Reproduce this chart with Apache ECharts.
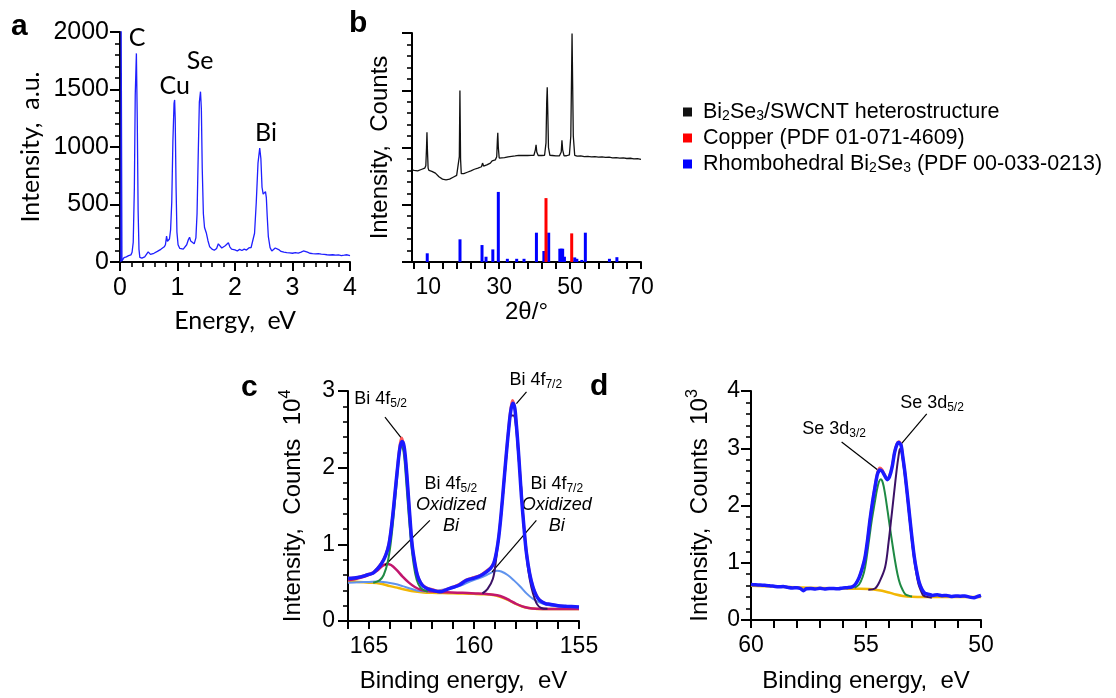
<!DOCTYPE html>
<html>
<head>
<meta charset="utf-8">
<script src="https://cdn.jsdelivr.net/npm/echarts@6/dist/echarts.min.js"></script>
<style>
  html, body { margin: 0; padding: 0; background: #fff; }
  #chart { width: 1116px; height: 698px; }
</style>
</head>
<body>
<div id="chart"></div>
<script>
// ---------- (a) EDX spectrum: [energy, intensity] ----------
const edxSpectrum = [
  [0.015,0],[0.020,2100],[0.028,2100],[0.034,10],[0.05,22],[0.07,38],[0.09,28],[0.11,45],[0.13,40],[0.15,56],
  [0.17,50],[0.19,62],[0.21,85],[0.23,170],[0.25,650],[0.265,1450],[0.285,1814],[0.30,1250],[0.315,450],[0.33,110],
  [0.345,40],[0.36,30],[0.38,34],[0.40,40],[0.43,45],[0.46,62],[0.49,88],[0.51,78],[0.53,66],[0.56,70],
  [0.59,76],[0.62,86],[0.65,92],[0.68,100],[0.71,110],[0.74,118],[0.77,132],[0.79,150],[0.81,226],[0.825,180],
  [0.84,170],[0.86,200],[0.88,280],[0.90,520],[0.92,1050],[0.94,1380],[0.95,1409],[0.96,1250],[0.975,650],[0.99,260],
  [1.01,150],[1.04,118],[1.07,106],[1.10,112],[1.13,128],[1.16,150],[1.19,196],[1.21,215],[1.23,182],[1.26,165],
  [1.29,158],[1.32,210],[1.34,420],[1.36,920],[1.38,1390],[1.40,1481],[1.415,1330],[1.43,820],[1.45,420],[1.47,300],
  [1.50,255],[1.53,185],[1.56,132],[1.60,112],[1.64,102],[1.68,118],[1.71,158],[1.74,168],[1.77,122],[1.80,116],
  [1.83,142],[1.86,152],[1.885,168],[1.91,132],[1.94,112],[1.97,102],[2.00,106],[2.04,96],[2.08,110],[2.12,100],
  [2.16,112],[2.20,104],[2.24,122],[2.28,126],[2.31,132],[2.34,250],[2.37,520],[2.40,860],[2.43,990],[2.45,900],
  [2.47,650],[2.49,590],[2.51,600],[2.53,612],[2.545,560],[2.56,400],[2.58,220],[2.61,125],[2.64,95],[2.67,100],
  [2.70,122],[2.73,132],[2.76,108],[2.80,92],[2.85,86],[2.90,82],[2.95,79],[3.00,76],[3.05,81],[3.10,78],
  [3.15,86],[3.19,96],[3.22,82],[3.26,86],[3.30,76],[3.35,73],[3.40,71],[3.45,73],[3.50,68],[3.55,66],
  [3.60,63],[3.65,61],[3.70,63],[3.75,59],[3.80,61],[3.85,56],[3.90,59],[3.95,63],[4.00,56]
];
const edxLabels = [
  { name: 'C',  at: [0.296, 1950] },
  { name: 'Cu', at: [0.950, 1530] },
  { name: 'Se', at: [1.395, 1750] },
  { name: 'Bi', at: [2.540, 1125] }
];

// ---------- (b) XRD pattern and reference cards: [2θ, intensity] ----------
const xrdPattern = [
  [5.4,40.2],[6.0,40.0],[6.5,40.3],[7.0,39.8],[7.5,40.1],[8.0,40.4],[8.5,40.6],[9.0,41.0],[9.3,42],[9.5,50],
  [9.62,56.6],[9.75,49],[9.95,41],[10.2,40],[10.6,39.8],[11.0,39.6],[11.5,39.4],[12.0,38.8],[12.5,38.0],[13.0,37.2],
  [13.5,36.6],[14.0,36.2],[14.5,36.0],[15.0,35.9],[15.5,36.0],[16.0,36.2],[16.5,36.6],[17.0,37.0],[17.5,37.4],[18.0,37.8],
  [18.5,38.5],[18.75,46],[18.92,74.9],[19.1,45],[19.3,38.6],[20.0,38.6],[21.0,39.2],[22.0,39.8],[23.0,40.5],[24.0,41.0],
  [25.0,41.6],[25.3,43.2],[25.6,41.9],[26.5,42.4],[27.5,43.2],[28.0,44.2],[28.3,44.0],[28.9,44.6],[29.3,46],[29.48,53],
  [29.6,56.4],[29.75,50],[30.0,45.4],[30.5,45.2],[31.5,45.6],[32.5,45.9],[33.5,46.1],[34.5,46.3],[35.5,46.6],[35.7,47.2],
  [36.0,46.4],[37.0,46.5],[38.0,46.5],[39.0,46.6],[39.8,46.6],[40.2,49],[40.4,51.2],[40.6,48],[41.0,46.5],[42.0,46.5],
  [42.8,46.6],[43.2,52],[43.4,70],[43.55,76.3],[43.7,66],[43.9,50],[44.3,46.6],[45.0,46.5],[46.0,46.3],[47.0,46.4],
  [47.5,48],[47.7,53.1],[47.9,49],[48.3,46.3],[49.0,46.4],[49.8,46.8],[50.2,55],[50.4,80],[50.55,99.8],[50.7,80],
  [50.9,55],[51.3,46.6],[52.0,46.2],[53.0,46.3],[54.0,46.0],[55.0,46.1],[56.0,45.9],[57.0,46.0],[58.0,45.8],[59.0,45.9],
  [60.0,45.7],[61.0,45.8],[62.0,45.5],[63.0,45.6],[64.0,45.4],[65.0,45.5],[66.0,45.2],[67.0,45.3],[68.0,45.0],[69.0,45.1],
  [70.0,44.8]
];
const bi2se3RefPeaks = [
  [9.7,3.8],[18.94,9.9],[25.15,7.4],[26.28,2.3],[28.2,5.5],[29.75,30.6],[32.3,1.4],[34.93,1.4],[37.0,1.4],[40.5,12.8],
  [42.6,4.8],[43.96,12.8],[47.1,5.8],[47.5,5.8],[47.9,5.8],[48.4,2.3],[51.3,2.0],[51.9,1.4],[53.3,0.9],[54.3,12.8],
  [61.1,1.4],[63.2,2.1]
];
const copperRefPeaks = [[43.2,27.9],[50.45,12.5]];
const xrdTickValues = [6,10,14,18,22,26,30,34,38,42,46,50,54,58,62,66,70];
const xrdLabelValues = [10,30,50,70];
const xrdSeriesNames = ['Bi2Se3/SWCNT heterostructure', 'Copper (PDF 01-071-4609)', 'Rhombohedral Bi2Se3 (PDF 00-033-0213)'];
const xrdLegendText = {
  'Bi2Se3/SWCNT heterostructure': 'Bi{sub|2}Se{sub|3}/SWCNT heterostructure',
  'Copper (PDF 01-071-4609)': 'Copper (PDF 01-071-4609)',
  'Rhombohedral Bi2Se3 (PDF 00-033-0213)': 'Rhombohedral Bi{sub|2}Se{sub|3} (PDF 00-033-0213)'
};

// ---------- (c) Bi 4f XPS: [binding energy, counts ×10^4] ----------
const bi4fMeasured = [
  [166.0,0.56],[165.7,0.565],[165.4,0.58],[165.1,0.605],[164.8,0.635],[164.6,0.69],[164.4,0.76],[164.2,0.87],[164.05,1.02],[163.9,1.32],
  [163.75,1.72],[163.62,2.08],[163.52,2.32],[163.44,2.39],[163.35,2.3],[163.24,2.06],[163.13,1.66],[163.03,1.28],[162.94,0.99],[162.82,0.77],
  [162.7,0.61],[162.55,0.51],[162.4,0.46],[162.2,0.43],[161.95,0.41],[161.63,0.39],[161.31,0.415],[161.0,0.445],[160.7,0.48],[160.36,0.54],
  [160.0,0.57],[159.7,0.6],[159.41,0.655],[159.2,0.7],[159.05,0.77],[158.93,0.91],[158.82,1.11],[158.7,1.43],[158.58,1.81],[158.46,2.2],
  [158.35,2.53],[158.25,2.78],[158.17,2.88],[158.07,2.8],[157.98,2.56],[157.9,2.28],[157.82,1.96],[157.74,1.63],[157.62,1.23],[157.5,0.9],
  [157.35,0.63],[157.19,0.45],[157.03,0.34],[156.87,0.275],[156.6,0.23],[156.39,0.22],[156.0,0.2],[155.6,0.19],[155.0,0.18]
];
const bi4fEnvelope = [
  [166.0,0.553],[165.7,0.56],[165.4,0.575],[165.1,0.6],[164.8,0.627],[164.6,0.68],[164.4,0.75],[164.2,0.86],[164.05,1.0],[163.9,1.3],
  [163.75,1.7],[163.62,2.05],[163.52,2.27],[163.42,2.34],[163.33,2.28],[163.24,2.05],[163.13,1.65],[163.03,1.27],[162.94,0.98],[162.82,0.76],
  [162.7,0.6],[162.55,0.5],[162.4,0.45],[162.2,0.42],[161.95,0.4],[161.63,0.38],[161.31,0.41],[161.0,0.44],[160.7,0.47],[160.36,0.53],
  [160.0,0.56],[159.7,0.59],[159.41,0.64],[159.2,0.69],[159.05,0.76],[158.93,0.9],[158.82,1.1],[158.7,1.42],[158.58,1.8],[158.46,2.18],
  [158.35,2.5],[158.25,2.74],[158.15,2.84],[158.06,2.78],[157.98,2.55],[157.9,2.27],[157.82,1.95],[157.74,1.62],[157.62,1.22],[157.5,0.88],
  [157.35,0.62],[157.19,0.44],[157.03,0.33],[156.87,0.27],[156.6,0.228],[156.39,0.218],[156.0,0.2],[155.6,0.192],[155.0,0.183]
];
const bi4fBackground = [
  [166.0,0.52],[165.5,0.51],[165.0,0.5],[164.5,0.49],[164.0,0.455],[163.6,0.43],[163.2,0.405],[162.8,0.385],[162.4,0.372],[162.0,0.368],
  [161.5,0.365],[161.0,0.362],[160.5,0.358],[160.0,0.354],[159.5,0.348],[159.1,0.338],[158.8,0.32],[158.5,0.29],[158.2,0.25],[157.9,0.21],
  [157.6,0.18],[157.3,0.165],[157.0,0.158],[156.5,0.155],[155.0,0.155]
];
const bi4f52Oxide = [
  [166.0,0.53],[165.6,0.55],[165.2,0.58],[164.9,0.61],[164.6,0.66],[164.35,0.72],[164.15,0.745],[163.95,0.73],[163.7,0.67],[163.4,0.58],
  [163.1,0.5],[162.8,0.44],[162.5,0.405],[162.2,0.39],[161.8,0.38],[161.3,0.375],[160.8,0.37],[160.3,0.365],[159.8,0.36],[159.3,0.35],
  [158.9,0.335],[158.6,0.31],[158.3,0.27],[158.0,0.225],[157.7,0.19],[157.4,0.17],[157.0,0.16],[156.5,0.155],[155.0,0.155]
];
const bi4f72Oxide = [
  [166.0,0.5],[165.5,0.505],[165.0,0.51],[164.6,0.515],[164.2,0.505],[163.8,0.485],[163.4,0.455],[163.0,0.42],[162.6,0.39],[162.2,0.385],
  [161.8,0.395],[161.4,0.41],[161.0,0.43],[160.6,0.465],[160.2,0.515],[159.8,0.555],[159.4,0.6],[159.1,0.64],[158.9,0.655],[158.7,0.645],
  [158.4,0.6],[158.1,0.53],[157.8,0.45],[157.5,0.36],[157.2,0.29],[156.9,0.245],[156.5,0.21],[156.0,0.19],[155.5,0.18],[155.0,0.175]
];
const bi4f52Metal = [
  [164.8,0.5],[164.5,0.53],[164.3,0.6],[164.1,0.78],[163.95,1.05],[163.8,1.45],[163.65,1.9],[163.55,2.18],[163.45,2.29],[163.35,2.2],
  [163.25,1.9],[163.1,1.35],[162.95,0.9],[162.8,0.62],[162.65,0.48],[162.45,0.41],[162.2,0.385]
];
const bi4f72Metal = [
  [159.6,0.36],[159.35,0.42],[159.1,0.55],[158.95,0.8],[158.77,1.22],[158.6,1.7],[158.46,2.14],[158.34,2.5],[158.22,2.68],[158.12,2.68],
  [158.02,2.58],[157.9,2.2],[157.74,1.7],[157.62,1.2],[157.5,0.84],[157.35,0.55],[157.19,0.36],[157.0,0.22],[156.8,0.17],[156.5,0.16]
];
// label anchors sit inside the axis range; `lift` raises a label above its anchor (px)
const bi4fLabels = [
  { name: 'Bi 4f{sub|5/2}', at: [164.45, 2.89], lift: 0 },
  { name: 'Bi 4f{sub|7/2}', at: [157.06, 3.0], lift: 11 },
  { name: 'Bi 4f{sub|5/2}\n{it|Oxidized}\n{it|Bi}', at: [161.1, 1.51], lift: 0 },
  { name: 'Bi 4f{sub|7/2}\n{it|Oxidized}\n{it|Bi}', at: [156.06, 1.51], lift: 0 }
];
const bi4fLeaders = [
  [[164.24, 2.66], [163.40, 2.366]],
  [[157.5, 2.99], [157.98, 2.835]],
  [[162.1, 1.313], [164.24, 0.727]],
  [[157.03, 1.313], [159.14, 0.64]]
];

// ---------- (d) Se 3d XPS: [binding energy, counts ×10^3] ----------
const se3dEnvelope = [
  [60,0.62],[59.8,0.615],[59.6,0.61],[59.4,0.605],[59.2,0.6],[59.0,0.59],[58.8,0.58],[58.6,0.585],[58.4,0.57],[58.2,0.56],
  [58.0,0.565],[57.85,0.55],[57.72,0.51],[57.6,0.545],[57.4,0.55],[57.2,0.54],[57.0,0.555],[56.8,0.54],[56.6,0.55],[56.4,0.55],
  [56.2,0.545],[56.0,0.56],[55.8,0.565],[55.6,0.58],[55.45,0.63],[55.3,0.74],[55.15,0.92],[55.04,1.1],[54.93,1.4],[54.83,1.74],
  [54.72,2.05],[54.61,2.32],[54.5,2.55],[54.4,2.62],[54.3,2.6],[54.2,2.53],[54.08,2.45],[53.98,2.5],[53.86,2.68],[53.76,2.92],
  [53.66,3.06],[53.58,3.1],[53.48,3.06],[53.4,2.85],[53.3,2.55],[53.16,2.03],[53.02,1.5],[52.9,1.1],[52.8,0.86],[52.69,0.66],
  [52.58,0.545],[52.45,0.47],[52.3,0.45],[52.1,0.43],[51.9,0.44],[51.7,0.425],[51.5,0.43],[51.3,0.41],[51.1,0.42],[50.9,0.415],
  [50.7,0.42],[50.5,0.4],[50.3,0.39],[50.15,0.41],[50.0,0.43]
];
const se3dMeasured = [
  [55.6,0.585],[55.45,0.635],[55.3,0.745],[55.15,0.93],[55.04,1.11],[54.93,1.41],[54.83,1.75],[54.72,2.06],[54.61,2.34],[54.5,2.58],
  [54.4,2.66],[54.3,2.63],[54.2,2.55],[54.08,2.47],[53.98,2.52],[53.86,2.7],[53.76,2.94],[53.66,3.08],[53.58,3.12],[53.48,3.07],
  [53.4,2.86],[53.3,2.56],[53.16,2.04],[53.02,1.51],[52.9,1.11],[52.8,0.87],[52.69,0.67],[52.58,0.55]
];
const se3dBackground = [
  [60,0.6],[59,0.585],[58,0.57],[57,0.56],[56,0.55],[55.3,0.545],[54.9,0.54],[54.6,0.53],[54.3,0.51],[54.0,0.48],
  [53.7,0.445],[53.4,0.42],[53.0,0.405],[52.5,0.4],[52,0.4],[51,0.4],[50,0.4]
];
const se3d32 = [
  [55.5,0.56],[55.3,0.62],[55.15,0.75],[55.04,0.92],[54.9,1.3],[54.75,1.74],[54.62,2.05],[54.53,2.26],[54.44,2.41],[54.36,2.46],
  [54.27,2.4],[54.17,2.2],[54.06,1.9],[53.96,1.62],[53.85,1.32],[53.74,1.04],[53.63,0.8],[53.52,0.63],[53.4,0.52],[53.3,0.455],
  [53.15,0.425],[53.0,0.41]
];
const se3d52 = [
  [54.9,0.53],[54.61,0.55],[54.4,0.68],[54.17,0.92],[54.02,1.35],[53.88,1.85],[53.77,2.25],[53.67,2.61],[53.59,2.85],[53.52,2.99],
  [53.45,2.92],[53.38,2.73],[53.27,2.38],[53.16,1.97],[53.05,1.55],[52.94,1.16],[52.83,0.86],[52.72,0.63],[52.6,0.5],[52.51,0.43],
  [52.3,0.4],[52.14,0.39]
];
const se3dLabels = [
  { name: 'Se 3d{sub|5/2}', at: [52.13, 3.785], lift: 0 },
  { name: 'Se 3d{sub|3/2}', at: [56.39, 3.33], lift: 0 }
];
const se3dLeaders = [
  [[52.36, 3.6], [53.52, 3.05]],
  [[56.06, 3.11], [54.46, 2.61]]
];

// ---------- styling ----------
const SANS = '"Liberation Sans", Arial, sans-serif';
const HUMANIST = 'Lato, "Open Sans", sans-serif';
const INK = '#000';

function merge(base, extra) {
  const out = Array.isArray(base) ? base.slice() : Object.assign({}, base);
  for (const k in extra) {
    const v = extra[k];
    if (v && typeof v === 'object' && !Array.isArray(v) && base[k] && typeof base[k] === 'object' && !Array.isArray(base[k])) {
      out[k] = merge(base[k], v);
    } else {
      out[k] = v;
    }
  }
  return out;
}

const axisCommon = {
  type: 'value',
  splitLine: { show: false },
  axisLine: { show: true, onZero: false, lineStyle: { color: INK, width: 2 } },
  axisTick: { show: true, inside: false, length: 9, lineStyle: { color: INK, width: 2 } },
  minorTick: { show: true, splitNumber: 5, length: 5, lineStyle: { color: INK, width: 1.6 } },
  axisLabel: { color: INK, fontSize: 23, fontFamily: SANS, margin: 12, formatter: (v) => String(v) },
  nameLocation: 'middle',
  nameTextStyle: { color: INK, fontSize: 24, fontFamily: SANS }
};
const axis = (o) => merge(axisCommon, o);

const supRich = { sup: { fontSize: 16, fontFamily: SANS, color: INK, verticalAlign: 'top', lineHeight: 16 } };
const noteRich = {
  sub: { fontSize: 12, fontFamily: SANS, color: INK, verticalAlign: 'bottom', lineHeight: 12 },
  it: { fontSize: 18, fontFamily: SANS, color: INK, fontStyle: 'italic', lineHeight: 21 }
};

function curve(name, data, xi, color, width, z, smooth) {
  return {
    name, type: 'line', xAxisIndex: xi, yAxisIndex: xi, data,
    symbol: 'none', showSymbol: false, smooth: smooth === undefined ? 0.35 : smooth,
    lineStyle: { color, width }, itemStyle: { color }, z, silent: true
  };
}

function notes(labels, leaders) {
  return {
    markPoint: {
      silent: true, symbol: 'rect', symbolSize: 1, itemStyle: { color: 'rgba(0,0,0,0)' },
      label: {
        show: true, position: 'inside', formatter: '{b}', color: INK,
        fontSize: 18, fontFamily: SANS, lineHeight: 21, rich: noteRich
      },
      data: labels.map(l => ({ name: l.name, coord: l.at, label: { offset: [0, -l.lift] } }))
    },
    markLine: {
      silent: true, symbol: ['none', 'none'], label: { show: false },
      lineStyle: { color: INK, width: 1.2, type: 'solid' },
      data: leaders.map(s => [{ coord: s[0] }, { coord: s[1] }])
    }
  };
}

const option = {
  animation: false,
  backgroundColor: '#fff',
  textStyle: { fontFamily: SANS },
  grid: [
    { left: 120, top: 32, width: 230, height: 230 },
    { left: 412, top: 33, width: 229, height: 229 },
    { left: 348, top: 391, width: 231, height: 230 },
    { left: 751, top: 391, width: 230, height: 229 }
  ],
  legend: {
    orient: 'vertical', left: 678, top: 96, itemWidth: 9, itemHeight: 9, itemGap: 4, icon: 'rect',
    selectedMode: false,
    data: xrdSeriesNames,
    formatter: (n) => xrdLegendText[n],
    textStyle: {
      color: INK, fontSize: 21.5, fontFamily: SANS, lineHeight: 21.5, padding: [0, 0, 0, 6],
      rich: { sub: { fontSize: 14, fontFamily: SANS, color: INK, verticalAlign: 'bottom', lineHeight: 13 } }
    }
  },
  xAxis: [
    axis({ gridIndex: 0, min: 0, max: 4, interval: 1,
      axisTick: { length: 9 }, minorTick: { length: 5 },
      axisLabel: { margin: 14, fontSize: 25 },
      name: 'Energy,  eV', nameGap: 46, nameTextStyle: { fontFamily: HUMANIST, fontSize: 25 } }),
    axis({ gridIndex: 1, min: 5.4, max: 70,
      axisTick: { length: 7, customValues: xrdTickValues },
      axisLabel: { margin: 14, customValues: xrdLabelValues },
      minorTick: { show: false },
      name: '2θ/°', nameGap: 18 }),
    axis({ gridIndex: 2, min: 155, max: 166, inverse: true,
      axisTick: { length: 8, customValues: [155,156,157,158,159,160,161,162,163,164,165,166] },
      axisLabel: { margin: 14, customValues: [155,160,165] },
      minorTick: { show: false },
      name: 'Binding energy,  eV', nameGap: 48 }),
    axis({ gridIndex: 3, min: 50, max: 60, interval: 5, inverse: true,
      axisTick: { length: 8 }, minorTick: { length: 8, lineStyle: { width: 2 } },
      axisLabel: { margin: 14 },
      name: 'Binding energy,  eV', nameGap: 49 })
  ],
  yAxis: [
    axis({ gridIndex: 0, min: 0, max: 2000, interval: 500,
      axisTick: { length: 10 }, minorTick: { length: 5 },
      axisLabel: { margin: 11, fontSize: 25 },
      name: 'Intensity,  a.u.', nameGap: 77, nameTextStyle: { fontFamily: HUMANIST, fontSize: 25 } }),
    axis({ gridIndex: 1, min: 0, max: 100, interval: 25,
      axisTick: { length: 10 }, minorTick: { length: 5 },
      axisLabel: { show: false },
      name: 'Intensity,  Counts', nameGap: 20 }),
    axis({ gridIndex: 2, min: 0, max: 3, interval: 1,
      axisTick: { length: 10 }, minorTick: { length: 5 },
      axisLabel: { margin: 13 },
      name: 'Intensity,  Counts  10{sup|4}', nameGap: 40,
      nameTextStyle: { lineHeight: 30, rich: supRich } }),
    axis({ gridIndex: 3, min: 0, max: 4, interval: 1,
      axisTick: { length: 10 }, minorTick: { length: 5 },
      axisLabel: { margin: 11 },
      name: 'Intensity,  Counts  10{sup|3}', nameGap: 36,
      nameTextStyle: { lineHeight: 30, rich: supRich } })
  ],
  series: [
    // (a)
    merge(curve('EDX', edxSpectrum, 0, '#1f1fff', 1.3, 3, false), {
      markPoint: {
        silent: true, symbol: 'rect', symbolSize: 1, itemStyle: { color: 'rgba(0,0,0,0)' },
        label: { show: true, position: 'inside', formatter: '{b}', color: INK, fontSize: 25, fontFamily: HUMANIST },
        data: edxLabels.map(l => ({ name: l.name, coord: l.at }))
      }
    }),
    // (b)
    {
      name: xrdSeriesNames[2], type: 'bar', xAxisIndex: 1, yAxisIndex: 1, data: bi2se3RefPeaks,
      barWidth: 3, barGap: '-100%', itemStyle: { color: '#0000ff' }, z: 2, silent: true
    },
    {
      name: xrdSeriesNames[1], type: 'bar', xAxisIndex: 1, yAxisIndex: 1, data: copperRefPeaks,
      barWidth: 3, barGap: '-100%', itemStyle: { color: '#ff0000' }, z: 3, silent: true
    },
    curve(xrdSeriesNames[0], xrdPattern, 1, '#111', 1.3, 4, false),
    // (c)
    curve('Bi 4f background', bi4fBackground, 2, '#f2b705', 2.5, 2),
    curve('Bi 4f7/2 oxidized', bi4f72Oxide, 2, '#5f93ee', 2, 3),
    curve('Bi 4f5/2 oxidized', bi4f52Oxide, 2, '#c2166e', 2.5, 4),
    curve('Bi 4f5/2', bi4f52Metal, 2, '#1f8a44', 2, 5),
    curve('Bi 4f7/2', bi4f72Metal, 2, '#3b1166', 2, 5),
    curve('Bi 4f measured', bi4fMeasured, 2, '#ff5a5a', 2.5, 6),
    merge(curve('Bi 4f envelope', bi4fEnvelope, 2, '#1a1aff', 3.5, 7), notes(bi4fLabels, bi4fLeaders)),
    // (d)
    curve('Se 3d background', se3dBackground, 3, '#f2b705', 2.5, 2),
    curve('Se 3d3/2', se3d32, 3, '#1f8a44', 2, 4),
    curve('Se 3d5/2', se3d52, 3, '#3b1166', 2, 4),
    curve('Se 3d measured', se3dMeasured, 3, '#ff5a5a', 2.5, 5),
    merge(curve('Se 3d envelope', se3dEnvelope, 3, '#1a1aff', 3.5, 6, 0.25), notes(se3dLabels, se3dLeaders))
  ],
  graphic: [
    { type: 'text', left: 11, top: 12, style: { text: 'a', fontSize: 30, fontWeight: 'bold', fontFamily: SANS, fill: INK } },
    { type: 'text', left: 349, top: 9, style: { text: 'b', fontSize: 30, fontWeight: 'bold', fontFamily: SANS, fill: INK } },
    { type: 'text', left: 241, top: 373, style: { text: 'c', fontSize: 30, fontWeight: 'bold', fontFamily: SANS, fill: INK } },
    { type: 'text', left: 590, top: 372, style: { text: 'd', fontSize: 30, fontWeight: 'bold', fontFamily: SANS, fill: INK } }
  ]
};

const chart = echarts.init(document.getElementById('chart'), null, { renderer: 'canvas' });
chart.setOption(option);
</script>
</body>
</html>
